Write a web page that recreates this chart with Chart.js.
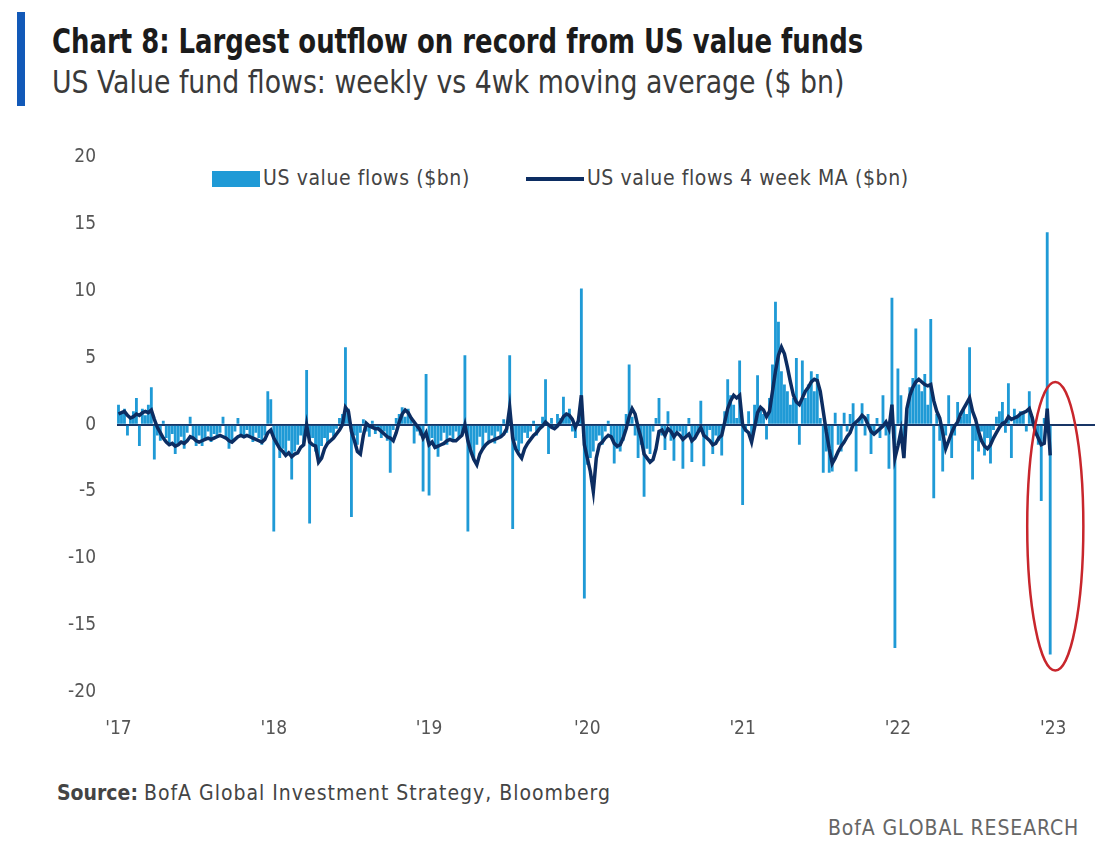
<!DOCTYPE html>
<html>
<head>
<meta charset="utf-8">
<script src="https://cdn.jsdelivr.net/npm/chart.js@4.4.1/dist/chart.umd.min.js"></script>
<style>
  body { margin: 0; background: #fff; width: 1095px; height: 848px; position: relative; overflow: hidden;
         font-family: "Liberation Sans Narrow", "DejaVu Sans Condensed", "Roboto Condensed", "Open Sans", sans-serif; }
  #bar { position: absolute; left: 17px; top: 12px; width: 8px; height: 94px; background: #1259b8; }
  #title { position: absolute; left: 52px; top: 22px; font-size: 33px; font-weight: bold; color: #1b1b1b; white-space: nowrap; line-height: 40px;
           transform: scaleX(0.873); transform-origin: left top; }
  #sub { position: absolute; left: 52px; top: 62px; font-size: 32px; color: #3a3a3a; white-space: nowrap; line-height: 40px;
         transform: scaleX(0.93); transform-origin: left top; }
  #legend { position: absolute; top: 166px; left: 212px; font-size: 21px; color: #444; white-space: nowrap; line-height: 24px; letter-spacing: 0.6px; }
  #legend span.box { display: inline-block; width: 48px; height: 16px; background: #1f9ad6; vertical-align: middle; margin-right: 3px; }
  #legend span.ln { display: inline-block; width: 58px; height: 4px; background: #0c2d62; vertical-align: middle; margin-left: 56px; margin-right: 3px; }
  #flowChart { position: absolute; left: 0; top: 125px; }
  #source { position: absolute; left: 57px; top: 781px; font-size: 21px; color: #444; white-space: nowrap; }
  #source span { letter-spacing: 1px; margin-left: 6px; }
  #brand { position: absolute; left: 828px; top: 816px; font-size: 21px; color: #666; white-space: nowrap; letter-spacing: 0.9px; }
</style>
</head>
<body>
<div id="bar"></div>
<div id="title">Chart 8: Largest outflow on record from US value funds</div>
<div id="sub">US Value fund flows: weekly vs 4wk moving average ($ bn)</div>
<div id="legend"><span class="box"></span>US value flows ($bn)<span class="ln"></span>US value flows 4 week MA ($bn)</div>
<canvas id="flowChart" width="1095" height="627"></canvas>
<div id="source"><b>Source:</b><span>BofA Global Investment Strategy, Bloomberg</span></div>
<div id="brand">BofA GLOBAL RESEARCH</div>

<script>
// weekly US value fund flows ($bn), one array per year
const flows17 = [1.5, 0.8, 1.2, -0.8, 0.6, 1.0, 2.0, -1.6, 1.2, 0.7,
  1.5, 2.8, -2.6, -0.8, -1.2, 0.3, -1.0, -1.5, -0.7, -2.2,
  -1.4, -0.9, -1.8, -0.6, 0.6, -1.0, -1.6, -0.8, -1.6, -1.1,
  -0.5, -1.3, -0.7, -1.0, -0.6, 0.6, -0.9, -1.8, -1.2, -0.5,
  0.5, -0.8, -1.0, -0.4, -0.9, -1.3, -0.6, -1.0, -1.5, -0.8,
  2.5, 1.9];
const flows18 = [-8.0, -1.5, -2.5, -1.8, -2.2, -1.2, -4.1, -2.0,
  -1.5, -0.8, -1.6, 4.1, -7.4, -1.0, -2.0, -2.8, -1.6, -1.0,
  -1.5, -0.6, -0.9, -0.3, 0.5, 0.8, 5.8, 1.2, -6.9, -0.8,
  -1.5, -0.6, 0.4, -0.5, -0.9, 0.3, -0.7, -0.4, -1.0, -0.5,
  -1.2, -3.6, -0.4, 0.5, 0.8, 1.3, 0.6, 1.2, 0.4, -1.4,
  -0.5, -0.8, -5.0, 3.8];
const flows19 = [-5.3, -1.0, -1.8, -2.4, -1.2, -0.6, -1.5, -0.8, -1.3, -0.5,
  -1.0, -0.7, 5.2, -8.0, -1.8, -2.6, -1.5, -0.9, -1.9, -0.6,
  -1.2, -0.8, -1.4, -0.5, -1.0, 0.4, -0.6, 5.2, -7.8, -1.2,
  -2.0, -1.4, -0.6, -1.0, -0.5, 0.3, -0.8, -0.4, 0.6, 3.4,
  -2.2, 0.5, -0.3, 0.8, 0.5, 2.1, 0.9, 1.2, -0.5, -1.0,
  0.6, 10.2, -13.0];
const flows20 = [-3.0, -2.5, -2.0, -1.2, -0.8, -1.5, -0.5, 0.3, -1.0, -2.9,
  -1.8, -2.0, -1.2, 0.8, 4.5, 0.6, -0.8, -2.5, -1.5, -5.4,
  -1.8, -2.2, -0.5, 0.5, 2.0, -0.8, -1.9, 1.0, -1.2, -2.7,
  -0.5, -0.5, -3.3, -0.8, 0.5, -2.8, -1.0, -0.5, 1.8, -3.1,
  -1.0, -0.4, -2.2, -0.8, -1.2, -2.3, 1.0, 3.4, 2.2, 1.5,
  0.5, 4.8];
const flows21 = [-6.0, -0.5, 1.0, -0.8, 1.5, 3.7, 1.2, 0.8, -1.1, 2.0,
  4.5, 9.2, 7.7, 4.0, 3.0, 2.5, 1.5, 2.0, 5.0, -1.5,
  4.8, 2.0, 3.0, 4.0, 2.5, 3.8, 0.5, -3.6, -2.0, -3.6,
  -3.5, 0.9, -1.5, -2.0, 0.9, -0.5, 0.8, 1.6, -3.5, 0.5,
  1.6, -0.8, 0.8, -2.2, -0.6, 0.5, -1.0, 2.2, -0.8, -3.3,
  9.5, -16.7];
const flows22 = [4.2, 2.2, -2.4, 1.0, 2.8, 3.5, 7.2, 3.0, 2.5, 3.8,
  1.5, 7.9, -5.5, 0.8, -1.2, -3.5, -0.8, 2.2, -2.5, -0.8,
  1.7, 0.6, 1.2, 0.8, 5.8, -4.1, -1.2, -2.0, -0.5, -2.3,
  -1.0, -2.9, -0.4, 0.6, 1.0, 1.7, -0.6, 3.1, -2.5, 1.2,
  0.5, 1.0, 0.8, -0.5, 2.5, 0.6, -0.8, -1.5, -5.7, 0.5,
  14.4, -17.2];

// 4-week moving average line
const ma17 = [0.8, 0.9, 1.0, 0.7, 0.5, 0.6, 0.8, 0.7, 0.9, 1.0,
  0.9, 1.1, 0.4, -0.2, -0.6, -1.0, -1.3, -1.5, -1.4, -1.6,
  -1.5, -1.3, -1.4, -1.2, -0.9, -1.0, -1.2, -1.3, -1.2, -1.1,
  -1.0, -1.1, -1.0, -0.9, -0.8, -0.9, -1.0, -1.2, -1.3, -1.1,
  -0.9, -0.8, -0.9, -0.8, -0.9, -1.0, -1.1, -1.2, -1.3, -1.1,
  -0.6, -0.4];
const ma18 = [-1.0, -1.4, -1.8, -2.0, -2.3, -2.1, -2.4, -2.2,
  -2.1, -1.7, -1.5, 0.0, -1.3, -1.5, -1.6, -2.8, -2.5, -1.8,
  -1.4, -1.2, -1.0, -0.7, -0.4, 0.0, 1.3, 1.0, -0.5, -1.2,
  -2.0, -2.2, -0.8, 0.1, -0.1, -0.2, -0.3, -0.3, -0.5, -0.7,
  -0.9, -1.0, -1.2, -0.6, 0.2, 0.8, 1.1, 0.9, 0.5, 0.2,
  -0.1, -0.4, -1.0, -0.6];
const ma19 = [-1.5, -1.3, -1.7, -1.6, -1.5, -1.4, -1.2, -1.1, -1.2, -1.2,
  -1.0, -0.8, 0.0, -1.2, -2.0, -2.6, -3.0, -2.2, -1.8, -1.5,
  -1.3, -1.2, -1.1, -1.0, -0.9, -0.7, -0.3, 1.3, -1.0, -1.8,
  -2.2, -2.5, -1.8, -1.4, -1.1, -0.8, -0.6, -0.3, -0.1, 0.2,
  0.0, -0.2, -0.3, -0.1, 0.2, 0.6, 0.8, 0.7, 0.4, -0.2,
  0.3, 2.2, -1.5];
const ma20 = [-2.5, -3.5, -5.0, -2.5, -1.5, -1.3, -1.0, -0.8, -0.9, -1.4,
  -1.6, -1.5, -1.0, -0.3, 0.6, 1.2, 0.8, -0.2, -1.0, -2.2,
  -2.5, -2.8, -2.6, -1.8, -0.5, -0.4, -0.8, -0.3, -0.5, -0.9,
  -0.6, -0.8, -1.1, -0.9, -0.7, -1.2, -1.0, -0.6, -0.2, -0.8,
  -1.0, -1.2, -1.5, -1.4, -1.0, -0.8, 0.2, 1.2, 1.8, 2.2,
  2.0, 2.2];
const ma21 = [0.0, -0.4, -0.6, -1.3, -0.2, 0.9, 1.3, 1.1, 0.6, 1.0,
  2.5, 4.0, 5.2, 5.8, 5.3, 4.3, 3.2, 2.2, 1.7, 1.5,
  2.0, 2.5, 2.8, 3.2, 3.4, 3.3, 2.5, 1.0, -0.5, -1.8,
  -2.9, -2.5, -2.0, -1.6, -1.3, -0.9, -0.6, 0.0, 0.2, 0.4,
  0.7, 0.5, 0.0, -0.5, -0.7, -0.5, -0.3, -0.1, 0.2, -0.3,
  1.5, -2.5];
const ma22 = [-1.6, -0.5, -2.5, 1.2, 2.2, 2.8, 3.2, 3.4, 3.2, 3.0,
  2.9, 3.0, 1.8, 1.0, 0.5, -0.6, -1.8, -1.2, -0.6, -0.1,
  0.2, 0.8, 1.2, 1.6, 2.0, 1.0, 0.4, -0.5, -1.2, -1.6,
  -1.8, -1.5, -1.0, -0.6, -0.2, 0.1, 0.2, 0.6, 0.4, 0.5,
  0.6, 0.8, 0.9, 1.0, 1.2, 0.5, -0.5, -1.0, -1.5, -1.4,
  1.2, -2.3];

// x axis: week number, year labels sit on the first week of each year
const yearWeeks = [0, 52, 104, 157, 209, 261, 313];
const yearLabels = ["'17", "'18", "'19", "'20", "'21", "'22", "'23"];
const yTicks = [20, 15, 10, 5, 0, -5, -10, -15, -20];

// red ring around the last weeks (in axis units)
const ring = { xFrom: 304.3, xTo: 323.1, yTop: 3.2, yBottom: -18.4 };

const flows = flows17.concat(flows18, flows19, flows20, flows21, flows22);
const ma = ma17.concat(ma18, ma19, ma20, ma21, ma22);
const weeks = flows.map((v, i) => i);

const ringPlugin = {
  id: 'ring',
  afterDatasetsDraw(chart) {
    const x = chart.scales.x, y = chart.scales.y, c = chart.ctx;
    const x0 = x.getPixelForValue(ring.xFrom), x1 = x.getPixelForValue(ring.xTo);
    const y0 = y.getPixelForValue(ring.yTop), y1 = y.getPixelForValue(ring.yBottom);
    c.save();
    c.beginPath();
    c.ellipse((x0 + x1) / 2, (y0 + y1) / 2, (x1 - x0) / 2, (y1 - y0) / 2, 0, 0, Math.PI * 2);
    c.strokeStyle = '#c8262c';
    c.lineWidth = 2.5;
    c.stroke();
    c.restore();
  }
};

const fontFam = '"Liberation Sans Narrow", "DejaVu Sans Condensed", "Roboto Condensed", "Open Sans", sans-serif';

const ctx = document.getElementById('flowChart');
new Chart(ctx, {
  type: 'bar',
  data: {
    labels: weeks,
    datasets: [{
      type: 'line',
      label: 'US value flows 4 week MA ($bn)',
      data: ma,
      borderColor: '#0c2d62',
      borderWidth: 3.5,
      pointRadius: 0,
      tension: 0,
      order: 0
    }, {
      label: 'US value flows ($bn)',
      data: flows,
      backgroundColor: '#1f9ad6',
      borderWidth: 0,
      barPercentage: 0.95,
      categoryPercentage: 1,
      order: 1
    }]
  },
  options: {
    responsive: false,
    animation: false,
    layout: { padding: { top: 0, right: 0, left: 0, bottom: 0 } },
    plugins: {
      legend: { display: false },
      tooltip: { enabled: false }
    },
    scales: {
      x: {
        type: 'linear',
        offset: false,
        min: -0.5,
        max: 327,
        afterBuildTicks: (axis) => { axis.ticks = yearWeeks.map(v => ({ value: v })); },
        afterFit: (axis) => { axis.height = 60; },
        grid: { display: false, drawTicks: false },
        border: { display: false },
        ticks: {
          padding: 26,
          maxRotation: 0,
          color: '#555',
          font: { family: fontFam, size: 19 },
          callback: (value) => yearLabels[yearWeeks.indexOf(value)]
        }
      },
      y: {
        min: -20,
        max: 20,
        afterBuildTicks: (axis) => { axis.ticks = yTicks.map(v => ({ value: v })); },
        afterFit: (axis) => { axis.width = 117; },
        grid: {
          drawTicks: false,
          lineWidth: 2,
          color: (c) => c.tick && c.tick.value === 0 ? '#183566' : 'rgba(0,0,0,0)'
        },
        border: { display: false },
        ticks: {
          padding: 21,
          color: '#555',
          font: { family: fontFam, size: 19 }
        }
      }
    }
  },
  plugins: [ringPlugin]
});
</script>
</body>
</html>
